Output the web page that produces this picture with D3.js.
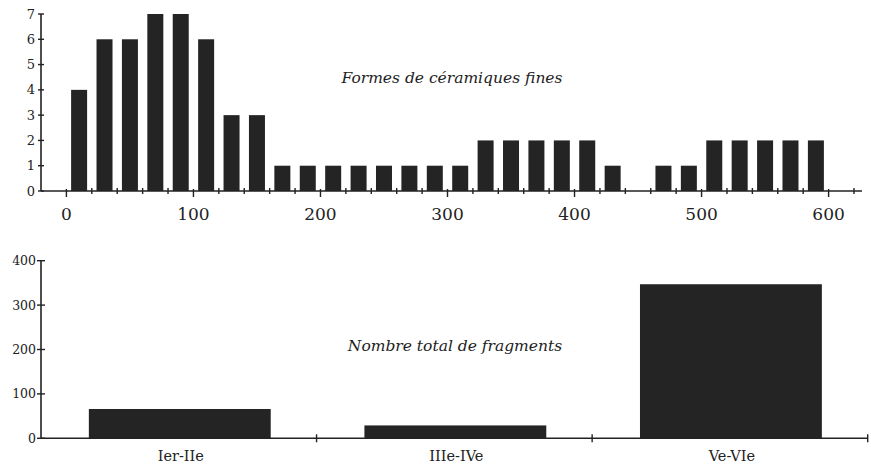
<!DOCTYPE html>
<html><head><meta charset="utf-8">
<script src="https://cdn.jsdelivr.net/npm/d3@7"></script>
<style>
html,body{margin:0;padding:0;background:#fff;}
svg{display:block;}
text{font-family:"DejaVu Serif","Liberation Serif",serif;fill:#222;}
</style></head>
<body>
<svg id="chart" width="871" height="464"></svg>
<script>
// Top chart: thin-ware forms per size class (bin centres)
const formBins = [10,30,50,70,90,110,130,150,170,190,210,230,250,270,290,310,330,350,370,390,410,430,450,470,490,510,530,550,570,590];
const formCounts = [4,6,6,7,7,6,3,3,1,1,1,1,1,1,1,1,2,2,2,2,2,1,0,1,1,2,2,2,2,2];
const topXTicks = [0,100,200,300,400,500,600];
const topYTicks = [0,1,2,3,4,5,6,7];
const topTitle = "Formes de céramiques fines";

// Bottom chart: total fragments per period
const periods = ["Ier-IIe","IIIe-IVe","Ve-VIe"];
const fragments = [66,29,347];
const bottomYTicks = [0,100,200,300,400];
const bottomTitle = "Nombre total de fragments";

const svg = d3.select("#chart");
const ink = "#222";
const barFill = "#242424";

// ---------- top chart ----------
const tx = d3.scaleLinear().domain([-20,620]).range([41,854]);
const ty = d3.scaleLinear().domain([0,7]).range([191,14]);
const gTop = svg.append("g");

gTop.selectAll("rect.bar").data(formBins).join("rect")
  .attr("class","bar")
  .attr("x", (d)=>tx(d)-8)
  .attr("width",16)
  .attr("y",(d,i)=>ty(formCounts[i]))
  .attr("height",(d,i)=>ty(0)-ty(formCounts[i]))
  .attr("fill",barFill);

gTop.append("line").attr("x1",tx(-20)).attr("x2",862).attr("y1",ty(0)).attr("y2",ty(0))
  .attr("stroke",ink).attr("stroke-width",1.6);
const minor = d3.range(20,621,20).filter(v=>v%100!==0);
gTop.selectAll("line.mn").data(minor).join("line").attr("class","mn")
  .attr("x1",d=>tx(d)).attr("x2",d=>tx(d)).attr("y1",ty(0)-3).attr("y2",ty(0)+3)
  .attr("stroke",ink).attr("stroke-width",1.4);
gTop.selectAll("line.mj").data(topXTicks).join("line").attr("class","mj")
  .attr("x1",d=>tx(d)).attr("x2",d=>tx(d)).attr("y1",ty(0)-2).attr("y2",ty(0)+6)
  .attr("stroke",ink).attr("stroke-width",1.4);
gTop.selectAll("text.xl").data(topXTicks).join("text").attr("class","xl")
  .attr("x",d=>tx(d)).attr("y",220).attr("text-anchor","middle")
  .attr("font-size",17).text(d=>d);

gTop.append("line").attr("x1",41).attr("x2",41).attr("y1",ty(7)).attr("y2",ty(0))
  .attr("stroke",ink).attr("stroke-width",1.6);
gTop.selectAll("line.yt").data(topYTicks).join("line").attr("class","yt")
  .attr("x1",38).attr("x2",44).attr("y1",d=>ty(d)).attr("y2",d=>ty(d))
  .attr("stroke",ink).attr("stroke-width",1.4);
gTop.selectAll("text.yl").data(topYTicks).join("text").attr("class","yl")
  .attr("x",35).attr("y",d=>ty(d)+4.5).attr("text-anchor","end")
  .attr("font-size",13).text(d=>d);

gTop.append("text").attr("x",452).attr("y",83).attr("text-anchor","middle")
  .attr("font-size",15.5).attr("font-style","italic").text(topTitle);

// ---------- bottom chart ----------
const bx = d3.scaleBand().domain(periods).range([41,867.7]).padding(0);
const by = d3.scaleLinear().domain([0,400]).range([438.3,260.7]);
const gBot = svg.append("g");
const bw = bx.bandwidth()*0.66;

gBot.selectAll("rect.bar").data(periods).join("rect").attr("class","bar")
  .attr("x",d=>bx(d)+bx.bandwidth()/2-bw/2+1)
  .attr("width",bw)
  .attr("y",(d,i)=>by(fragments[i]))
  .attr("height",(d,i)=>by(0)-by(fragments[i]))
  .attr("fill",barFill);

gBot.append("line").attr("x1",41).attr("x2",867.7).attr("y1",by(0)).attr("y2",by(0))
  .attr("stroke",ink).attr("stroke-width",1.6);
gBot.selectAll("line.bt").data(periods).join("line").attr("class","bt")
  .attr("x1",d=>bx(d)+bx.bandwidth()).attr("x2",d=>bx(d)+bx.bandwidth())
  .attr("y1",by(0)-4).attr("y2",by(0)+4)
  .attr("stroke",ink).attr("stroke-width",1.4);
gBot.selectAll("text.xl").data(periods).join("text").attr("class","xl")
  .attr("x",d=>bx(d)+bx.bandwidth()/2+2).attr("y",461).attr("text-anchor","middle")
  .attr("font-size",14.5).text(d=>d);

gBot.append("line").attr("x1",41).attr("x2",41).attr("y1",by(400)).attr("y2",by(0))
  .attr("stroke",ink).attr("stroke-width",1.6);
gBot.selectAll("line.yt").data(bottomYTicks).join("line").attr("class","yt")
  .attr("x1",37).attr("x2",45).attr("y1",d=>by(d)).attr("y2",d=>by(d))
  .attr("stroke",ink).attr("stroke-width",1.4);
gBot.selectAll("text.yl").data(bottomYTicks).join("text").attr("class","yl")
  .attr("x",36).attr("y",d=>by(d)+4.5).attr("text-anchor","end")
  .attr("font-size",12.5).text(d=>d);

gBot.append("text").attr("x",455).attr("y",351).attr("text-anchor","middle")
  .attr("font-size",15.5).attr("font-style","italic").text(bottomTitle);
</script>
</body></html>
